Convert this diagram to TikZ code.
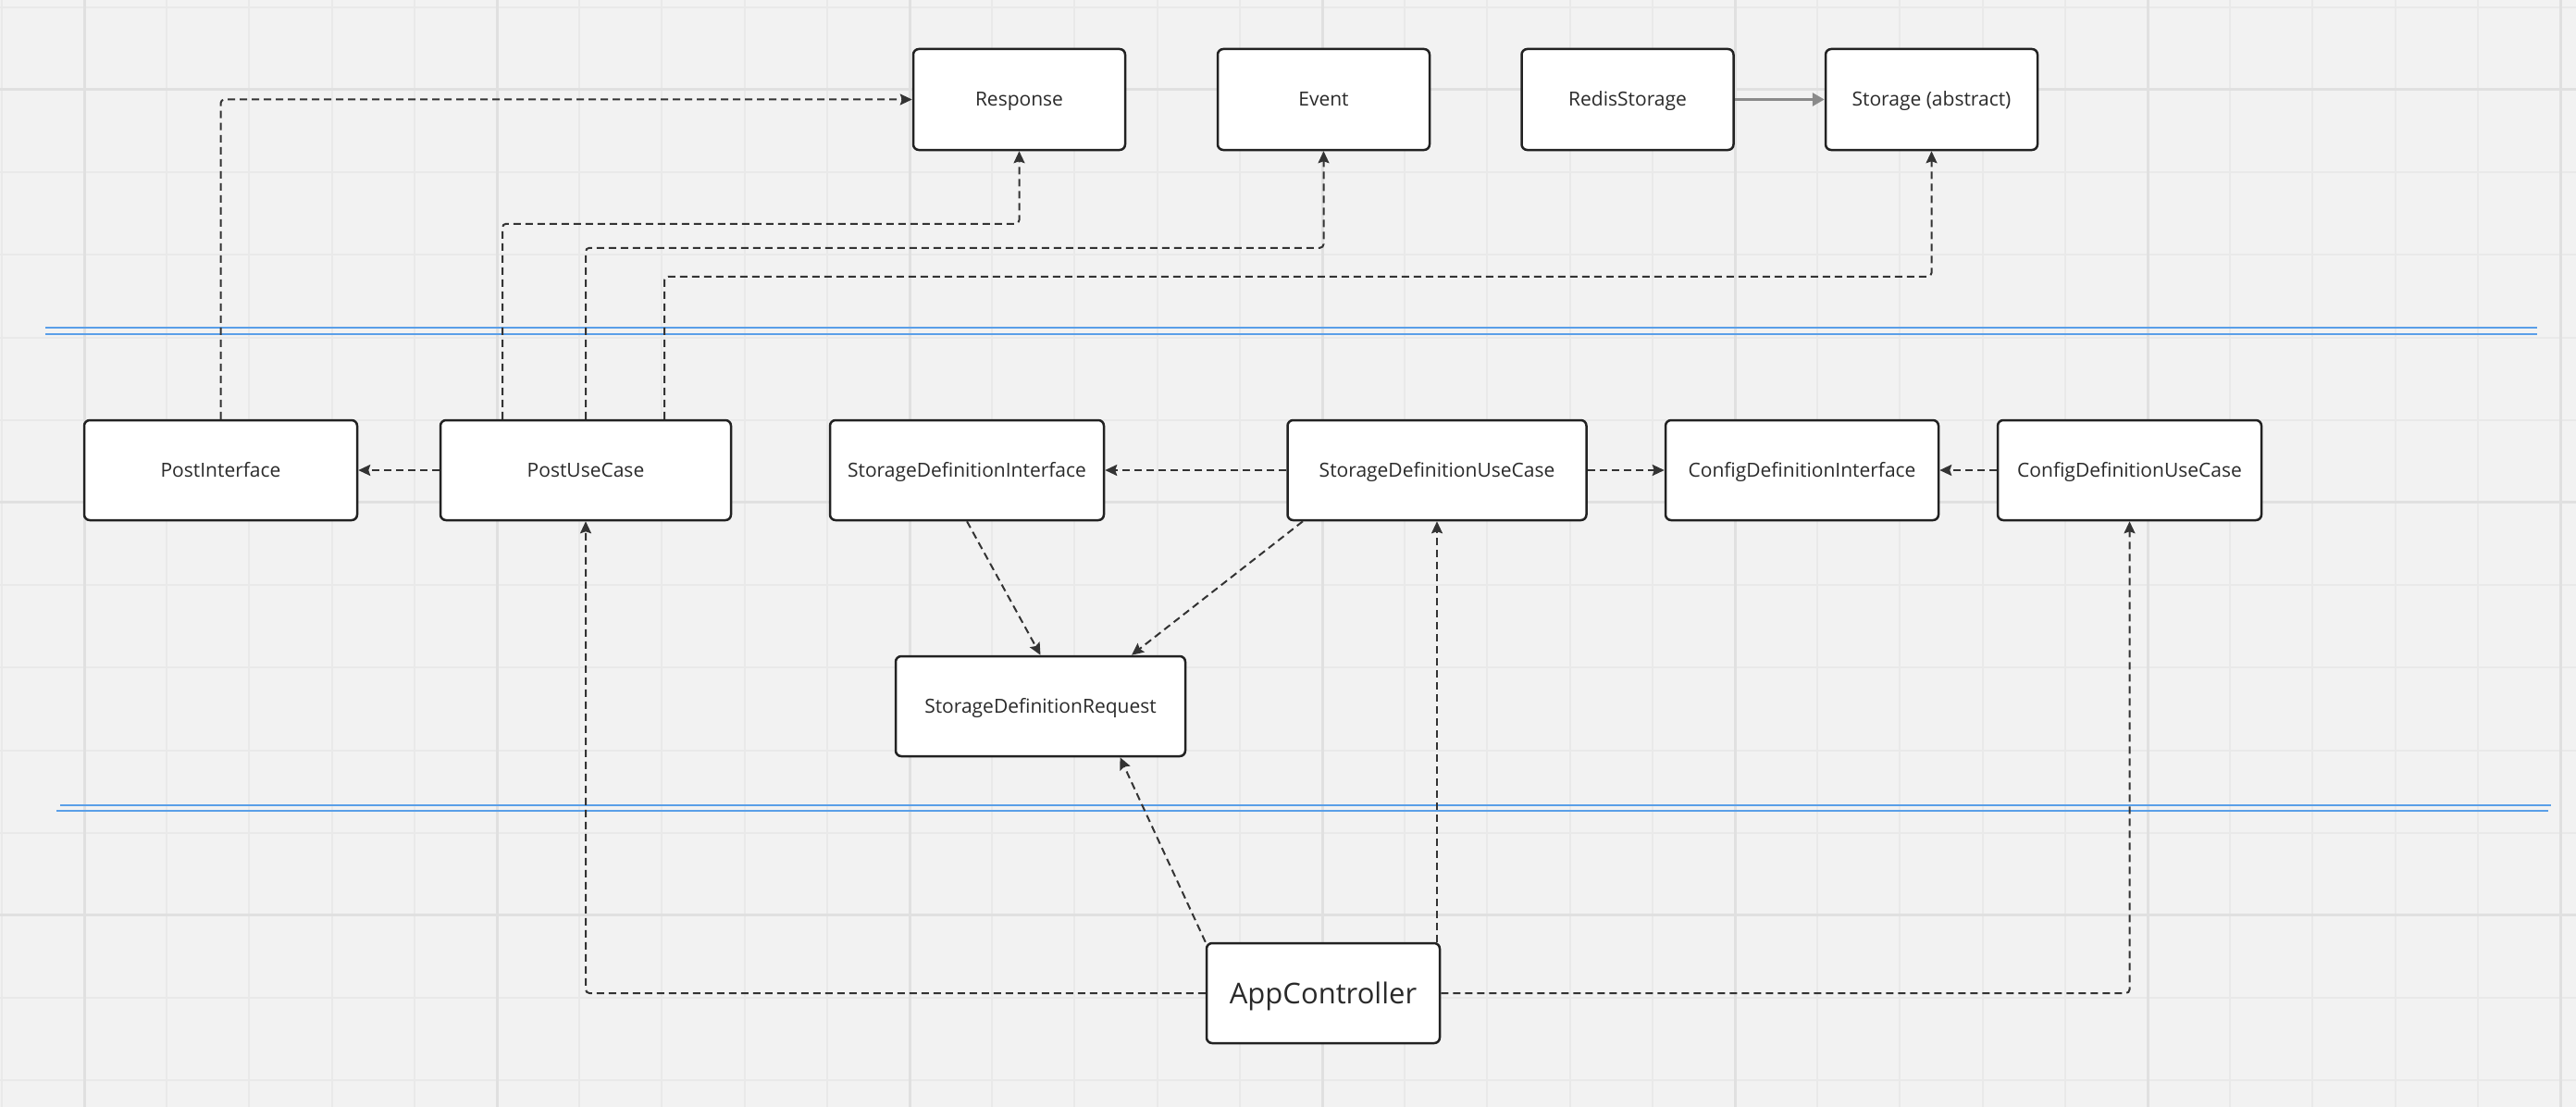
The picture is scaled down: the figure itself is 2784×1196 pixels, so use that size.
\documentclass[tikz,border=0pt]{standalone}
\usepackage{fontspec}
\setmainfont{Open Sans}
\usetikzlibrary{arrows.meta}

\definecolor{canvas}{HTML}{F2F2F2}
\definecolor{gridminor}{HTML}{E9E9E9}
\definecolor{gridmajor}{HTML}{E0E0E0}
\definecolor{boxline}{HTML}{222222}
\definecolor{depline}{HTML}{333333}
\definecolor{inherit}{HTML}{8A8A8A}
\definecolor{layer}{HTML}{5A9FE8}
\definecolor{ink}{HTML}{2A2A2A}

\tikzset{
  box/.style={draw=boxline, line width=2.5pt, rounded corners=6pt, fill=white,
    inner sep=0pt, text=ink, text height=15pt, text depth=0pt,
    font=\fontsize{21}{25}\selectfont},
  bigbox/.style={box, text height=22pt, font=\fontsize{31}{37}\selectfont},
  dep/.style={draw=depline, line width=2pt, dash pattern=on 8pt off 5pt,
    rounded corners=4pt, -{Stealth[length=13pt,width=12pt,inset=2pt]}},
  realizes/.style={draw=inherit, line width=3pt,
    -{Triangle[length=13pt,width=14pt]}},
  layerline/.style={draw=layer, line width=2pt},
}

\begin{document}
\begin{tikzpicture}[x=1pt,y=-1pt]
  % canvas and board grid
  \fill[canvas] (0,0) rectangle (2784,1196);
  \useasboundingbox (0,0) rectangle (2784,1196);
  \foreach \k in {-1,...,30} {
    \pgfmathsetmacro{\gx}{91+89.2*\k}
    \draw[gridminor, line width=2pt] (\gx,0) -- (\gx,1196);
  }
  \foreach \k in {-1,...,12} {
    \pgfmathsetmacro{\gy}{97+89.2*\k}
    \draw[gridminor, line width=2pt] (0,\gy) -- (2784,\gy);
  }
  \foreach \k in {0,...,6} {
    \pgfmathsetmacro{\gx}{91+446*\k}
    \draw[gridmajor, line width=3pt] (\gx,0) -- (\gx,1196);
  }
  \foreach \k in {0,...,2} {
    \pgfmathsetmacro{\gy}{97+445.5*\k}
    \draw[gridmajor, line width=3pt] (0,\gy) -- (2784,\gy);
  }

  % layer boundaries
  \draw[layerline] (49,354) -- (2742,354);
  \draw[layerline] (49,361) -- (2742,361);
  \draw[layerline] (65,870) -- (2757,870);
  \draw[layerline] (61,876) -- (2754,876);

  % top row
  \node[box, minimum width=229pt, minimum height=109pt] (resp)    at (1101.5,107.5) {Response};
  \node[box, minimum width=229pt, minimum height=109pt] (event)   at (1430.5,107.5) {Event};
  \node[box, minimum width=229pt, minimum height=109pt] (redis)   at (1759,107.5)   {RedisStorage};
  \node[box, minimum width=229pt, minimum height=109pt] (storage) at (2087.5,107.5) {Storage (abstract)};

  % middle row
  \node[box, minimum width=295pt, minimum height=108pt] (postif) at (238.5,508)  {PostInterface};
  \node[box, minimum width=314pt, minimum height=108pt] (postuc) at (633,508)    {PostUseCase};
  \node[box, minimum width=296pt, minimum height=108pt] (sdi)    at (1045,508)   {StorageDefinitionInterface};
  \node[box, minimum width=323pt, minimum height=108pt] (sduc)   at (1553,508)   {StorageDefinitionUseCase};
  \node[box, minimum width=295pt, minimum height=108pt] (cdi)    at (1947.5,508) {ConfigDefinitionInterface};
  \node[box, minimum width=285pt, minimum height=108pt] (cduc)   at (2301.5,508) {ConfigDefinitionUseCase};
  \node[box, minimum width=313pt, minimum height=108pt] (sdr)    at (1124.5,763) {StorageDefinitionRequest};

  % bottom
  \node[bigbox, minimum width=252pt, minimum height=108pt] (app) at (1430,1073) {AppController};

  % dependencies
  \draw[dep] (postif.north) |- (resp.west);
  \draw[dep] ([xshift=-90pt]postuc.north) -- ++(0,-211) -| (resp.south);
  \draw[dep] (postuc.north) -- ++(0,-185) -| (event.south);
  \draw[dep] ([xshift=85pt]postuc.north) -- ++(0,-154) -| (storage.south);
  \draw[dep] (postuc.west) -- (postif.east);
  \draw[realizes] (redis.east) -- (storage.west);
  \draw[dep] (sduc.west) -- (sdi.east);
  \draw[dep] (sduc.east) -- (cdi.west);
  \draw[dep] (cduc.west) -- (cdi.east);
  \draw[dep] (sdi.south) -- (sdr.north);
  \draw[dep] ([xshift=-145pt]sduc.south) -- ([xshift=98.5pt]sdr.north);
  \draw[dep] (app.north west) -- ([xshift=86pt]sdr.south);
  \draw[dep] (sduc.south |- app.north) -- (sduc.south);
  \draw[dep] (app.west) -| (postuc.south);
  \draw[dep] (app.east) -| (cduc.south);
\end{tikzpicture}
\end{document}
